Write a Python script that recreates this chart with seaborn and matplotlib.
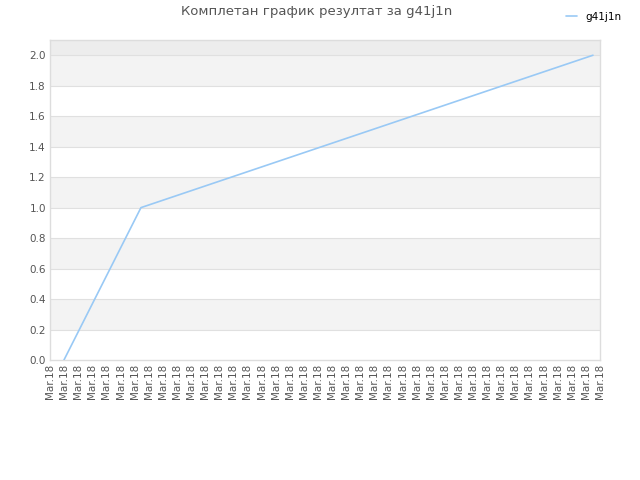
import numpy as np
import pandas as pd
import seaborn as sns
import matplotlib
matplotlib.use("Agg")
import matplotlib.pyplot as plt

sns.set_theme(style="white")
plt.rcParams['font.family'] = ['DejaVu Sans']

# data (x in tick units)
x_pos = [0.99, 6.45, 38.5]
scores = [0.0, 1.0, 2.0]
tick_labels = ["Mar.18"] * 40
series_name = "g41j1n"
title = "Комплетан график резултат за g41j1n"

df = pd.DataFrame({"x": x_pos, "y": scores, "serie": series_name})

fig = plt.figure(figsize=(6.4, 4.8), dpi=100)
ax = fig.add_axes([50/640, 120/480, 550/640, 320/480])

# alternating bands
for lo in np.arange(0.2, 2.0, 0.4):
    ax.axhspan(lo, lo + 0.2, color="#f3f3f3", zorder=0, lw=0)
ax.axhspan(2.0, 2.1, color="#ededed", zorder=0, lw=0)

sns.lineplot(data=df, x="x", y="y", hue="serie", palette=["#99c9f5"],
             linewidth=1.2, ax=ax, legend=False, zorder=3)

ax.set_xlim(0, 39)
ax.set_ylim(0, 2.1)
ax.set_xticks(range(len(tick_labels)))
ax.set_xticklabels(tick_labels, rotation=90, fontsize=7.5, color="#555555")
ax.set_yticks(np.arange(0, 2.01, 0.2))
ax.set_yticklabels([f"{v:.1f}" for v in np.arange(0, 2.01, 0.2)], fontsize=7.5, color="#555555")
ax.tick_params(axis="both", length=0, pad=3)
ax.set_xlabel("")
ax.set_ylabel("")
for y in np.arange(0.2, 2.01, 0.2):
    ax.axhline(y, color="#e0e0e0", lw=0.8, zorder=1)
for s in ax.spines.values():
    s.set_color("#dddddd")
    s.set_linewidth(1)

fig.text(0.495, 1 - 12/480, title, ha="center", va="center", fontsize=9.5, color="#555555")

leg = fig.legend(handles=[plt.Line2D([], [], color="#99c9f5", lw=1.2)], labels=[series_name],
                 loc="upper right", bbox_to_anchor=(0.985, 0.995), frameon=False,
                 fontsize=7.5, handlelength=1.0, handletextpad=0.8)
for t in leg.get_texts():
    t.set_color("black")

fig.savefig("out.png", dpi=100)
